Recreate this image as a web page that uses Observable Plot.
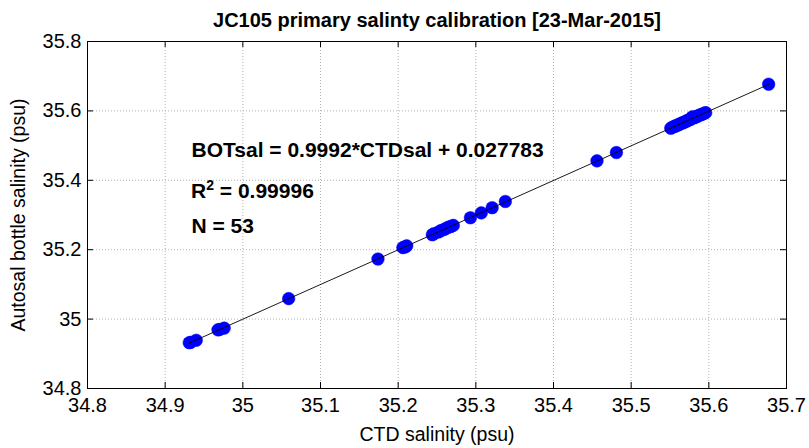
<!DOCTYPE html>
<html>
<head>
<meta charset="utf-8">
<script src="https://cdn.jsdelivr.net/npm/d3@7"></script>
<script src="https://cdn.jsdelivr.net/npm/@observablehq/plot@0.6"></script>
<style>
  html, body { margin: 0; padding: 0; background: #fff; }
  svg { display: block; }
</style>
</head>
<body>
<div id="chart"></div>
<script>
// CTD salinity (x) and Autosal bottle salinity (y)
const ctdSal = [
  34.931, 34.933, 34.940,
  34.968, 34.970, 34.976,
  35.059,
  35.174,
  35.206, 35.209, 35.211,
  35.244, 35.246, 35.252, 35.255, 35.259, 35.262, 35.265, 35.268, 35.271,
  35.293, 35.307, 35.321, 35.338,
  35.456, 35.481,
  35.551, 35.553, 35.556, 35.557, 35.559, 35.561, 35.562, 35.564, 35.566, 35.567,
  35.569, 35.571, 35.572, 35.574, 35.576, 35.577, 35.579, 35.581, 35.583, 35.584,
  35.586, 35.588, 35.590, 35.592, 35.594, 35.596,
  35.677
];
const botSal = [
  34.932, 34.933, 34.939,
  34.969, 34.970, 34.974,
  35.059,
  35.173,
  35.206, 35.208, 35.211,
  35.243, 35.246, 35.251, 35.255, 35.258, 35.262, 35.265, 35.267, 35.270,
  35.292, 35.306, 35.321, 35.339,
  35.456, 35.480,
  35.550, 35.553, 35.555, 35.557, 35.558, 35.560, 35.562, 35.563, 35.566, 35.566,
  35.568, 35.571, 35.571, 35.574, 35.575, 35.577, 35.583, 35.580, 35.582, 35.584,
  35.585, 35.588, 35.589, 35.591, 35.593, 35.595,
  35.677
];
const xTicks = [34.8, 34.9, 35, 35.1, 35.2, 35.3, 35.4, 35.5, 35.6, 35.7];
const yTicks = [34.8, 35, 35.2, 35.4, 35.6, 35.8];
const fitSlope = 0.9992;
const fitIntercept = 0.027783;
const titleText = "JC105 primary salinty calibration [23-Mar-2015]";
const xLabel = "CTD salinity (psu)";
const yLabel = "Autosal bottle salinity (psu)";
const fitText = "BOTsal = 0.9992*CTDsal + 0.027783";
const r2Value = "0.99996";
const nPoints = 53;

const points = ctdSal.map((c, i) => ({ctd: c, bot: botSal[i]}));
const xMin = d3.min(ctdSal), xMax = d3.max(ctdSal);
const fitLine = [xMin, xMax].map(c => ({ctd: c, bot: fitSlope * c + fitIntercept}));

const W = 809, H = 448;
const mL = 87, mR = 23, mT = 41, mB = 60;
const innerW = W - mL - mR, innerH = H - mT - mB;
const tickLen = 6;
const font = "'Liberation Sans', Arial, Helvetica, sans-serif";

const chart = Plot.plot({
  width: W,
  height: H,
  marginLeft: mL,
  marginRight: mR,
  marginTop: mT,
  marginBottom: mB,
  style: {fontFamily: font, fontSize: "20px", color: "#000", background: "#fff"},
  x: {domain: [34.8, 35.7]},
  y: {domain: [34.8, 35.8]},
  marks: [
    Plot.gridX(xTicks, {stroke: "#b0b0b0", strokeOpacity: 1, strokeDasharray: "1,2"}),
    Plot.gridY(yTicks, {stroke: "#b0b0b0", strokeOpacity: 1, strokeDasharray: "1,2"}),
    // inward ticks on all four sides
    Plot.tickX(xTicks, {x: d => d, stroke: "#000", insetTop: innerH - tickLen}),
    Plot.tickX(xTicks, {x: d => d, stroke: "#000", insetBottom: innerH - tickLen}),
    Plot.tickY(yTicks, {y: d => d, stroke: "#000", insetRight: innerW - tickLen}),
    Plot.tickY(yTicks, {y: d => d, stroke: "#000", insetLeft: innerW - tickLen}),
    Plot.axisX({ticks: xTicks, tickSize: 0, tickPadding: 9, tickFormat: d => String(+d.toFixed(1)),
      label: null, fontSize: 20}),
    Plot.axisY({ticks: yTicks, tickSize: 0, tickPadding: 6, tickFormat: d => String(+d.toFixed(1)),
      label: null, fontSize: 20}),
    Plot.frame({stroke: "#000", strokeWidth: 1}),
    Plot.dot(points, {x: "ctd", y: "bot", r: 6.3, fill: "#0000ff", stroke: "#0000ff", strokeWidth: 0.5}),
    Plot.line(fitLine, {x: "ctd", y: "bot", stroke: "#000", strokeWidth: 0.9}),
    // title & axis labels
    Plot.text([titleText], {frameAnchor: "top", dy: -mT + 26, text: d => d, fontSize: 20, fontWeight: "bold", lineAnchor: "bottom"}),
    Plot.text([xLabel], {frameAnchor: "bottom", dy: 52, text: d => d, fontSize: 19.5, lineAnchor: "bottom"}),
    Plot.text([yLabel], {frameAnchor: "left", dx: -69, rotate: -90, textAnchor: "middle", lineAnchor: "middle", text: d => d, fontSize: 19.5}),
    // annotation
    Plot.text([fitText], {frameAnchor: "top-left", dx: 104, dy: 115, text: d => d,
      fontSize: 21, fontWeight: "bold", textAnchor: "start", lineAnchor: "bottom"}),
    Plot.text(["N = " + nPoints], {frameAnchor: "top-left", dx: 104, dy: 191, text: d => d,
      fontSize: 21, fontWeight: "bold", textAnchor: "start", lineAnchor: "bottom"})
  ]
});

// R² with superscript as real text
const svg = d3.select(chart);
const r2 = svg.append("text")
  .attr("x", mL + 104).attr("y", mT + 157)
  .attr("text-anchor", "start")
  .attr("font-family", font).attr("font-size", 21).attr("font-weight", "bold").attr("fill", "#000");
r2.append("tspan").text("R");
r2.append("tspan").attr("dy", -8).attr("font-size", 14).text("2");
r2.append("tspan").attr("dy", 8).text(" = " + r2Value);

document.getElementById("chart").appendChild(chart);
</script>
</body>
</html>
